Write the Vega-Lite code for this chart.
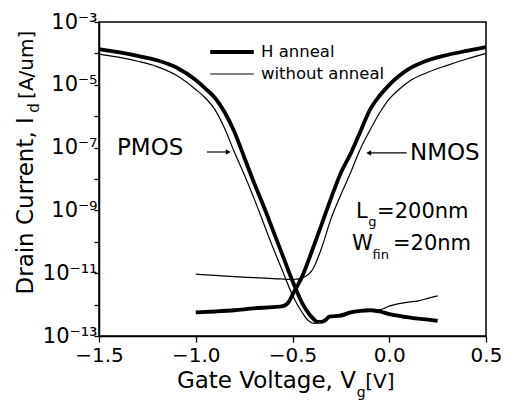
{
  "$schema": "https://vega.github.io/schema/vega-lite/v6.json",
  "width": 387,
  "height": 314,
  "autosize": {"type": "none"},
  "padding": {"left": 99, "top": 22, "right": 19, "bottom": 66},
  "background": "white",
  "config": {
    "view": {"stroke": "black", "strokeWidth": 1.5},
    "font": "DejaVu Sans",
    "text": {"font": "DejaVu Sans", "color": "black"}
  },
  "layer": [
    {
      "data": {"values": [
        {"v": -1.5, "i": 1.38e-4, "a": "H anneal", "d": "PMOS"},
        {"v": -1.4, "i": 1.096e-4, "a": "H anneal", "d": "PMOS"},
        {"v": -1.3, "i": 8.32e-5, "a": "H anneal", "d": "PMOS"},
        {"v": -1.2, "i": 6.03e-5, "a": "H anneal", "d": "PMOS"},
        {"v": -1.1, "i": 3.55e-5, "a": "H anneal", "d": "PMOS"},
        {"v": -1.0, "i": 1.413e-5, "a": "H anneal", "d": "PMOS"},
        {"v": -0.95, "i": 7.59e-6, "a": "H anneal", "d": "PMOS"},
        {"v": -0.9, "i": 3.80e-6, "a": "H anneal", "d": "PMOS"},
        {"v": -0.85, "i": 1.318e-6, "a": "H anneal", "d": "PMOS"},
        {"v": -0.8, "i": 3.16e-7, "a": "H anneal", "d": "PMOS"},
        {"v": -0.75, "i": 5.01e-8, "a": "H anneal", "d": "PMOS"},
        {"v": -0.7, "i": 7.94e-9, "a": "H anneal", "d": "PMOS"},
        {"v": -0.65, "i": 1.413e-9, "a": "H anneal", "d": "PMOS"},
        {"v": -0.6, "i": 2.24e-10, "a": "H anneal", "d": "PMOS"},
        {"v": -0.55, "i": 3.55e-11, "a": "H anneal", "d": "PMOS"},
        {"v": -0.5, "i": 5.62e-12, "a": "H anneal", "d": "PMOS"},
        {"v": -0.45, "i": 1.122e-12, "a": "H anneal", "d": "PMOS"},
        {"v": -0.4, "i": 3.98e-13, "a": "H anneal", "d": "PMOS"},
        {"v": -0.37, "i": 2.82e-13, "a": "H anneal", "d": "PMOS"},
        {"v": -0.35, "i": 2.82e-13, "a": "H anneal", "d": "PMOS"},
        {"v": -0.33, "i": 3.16e-13, "a": "H anneal", "d": "PMOS"},
        {"v": -0.31, "i": 4.17e-13, "a": "H anneal", "d": "PMOS"},
        {"v": -0.25, "i": 4.47e-13, "a": "H anneal", "d": "PMOS"},
        {"v": -0.2, "i": 5.62e-13, "a": "H anneal", "d": "PMOS"},
        {"v": -0.15, "i": 6.31e-13, "a": "H anneal", "d": "PMOS"},
        {"v": -0.1, "i": 6.61e-13, "a": "H anneal", "d": "PMOS"},
        {"v": -0.05, "i": 6.03e-13, "a": "H anneal", "d": "PMOS"},
        {"v": 0.0, "i": 5.01e-13, "a": "H anneal", "d": "PMOS"},
        {"v": 0.05, "i": 4.37e-13, "a": "H anneal", "d": "PMOS"},
        {"v": 0.1, "i": 3.89e-13, "a": "H anneal", "d": "PMOS"},
        {"v": 0.15, "i": 3.55e-13, "a": "H anneal", "d": "PMOS"},
        {"v": 0.2, "i": 3.31e-13, "a": "H anneal", "d": "PMOS"},
        {"v": 0.25, "i": 3.02e-13, "a": "H anneal", "d": "PMOS"},

        {"v": -1.5, "i": 9.55e-5, "a": "without anneal", "d": "PMOS"},
        {"v": -1.4, "i": 7.59e-5, "a": "without anneal", "d": "PMOS"},
        {"v": -1.3, "i": 5.62e-5, "a": "without anneal", "d": "PMOS"},
        {"v": -1.2, "i": 3.80e-5, "a": "without anneal", "d": "PMOS"},
        {"v": -1.1, "i": 2.0e-5, "a": "without anneal", "d": "PMOS"},
        {"v": -1.0, "i": 7.08e-6, "a": "without anneal", "d": "PMOS"},
        {"v": -0.95, "i": 3.80e-6, "a": "without anneal", "d": "PMOS"},
        {"v": -0.9, "i": 1.585e-6, "a": "without anneal", "d": "PMOS"},
        {"v": -0.85, "i": 3.98e-7, "a": "without anneal", "d": "PMOS"},
        {"v": -0.8, "i": 7.08e-8, "a": "without anneal", "d": "PMOS"},
        {"v": -0.75, "i": 1.413e-8, "a": "without anneal", "d": "PMOS"},
        {"v": -0.7, "i": 2.51e-9, "a": "without anneal", "d": "PMOS"},
        {"v": -0.65, "i": 3.98e-10, "a": "without anneal", "d": "PMOS"},
        {"v": -0.6, "i": 6.31e-11, "a": "without anneal", "d": "PMOS"},
        {"v": -0.55, "i": 1.122e-11, "a": "without anneal", "d": "PMOS"},
        {"v": -0.5, "i": 2.0e-12, "a": "without anneal", "d": "PMOS"},
        {"v": -0.45, "i": 5.62e-13, "a": "without anneal", "d": "PMOS"},
        {"v": -0.42, "i": 3.16e-13, "a": "without anneal", "d": "PMOS"},
        {"v": -0.39, "i": 2.51e-13, "a": "without anneal", "d": "PMOS"},
        {"v": -0.36, "i": 2.82e-13, "a": "without anneal", "d": "PMOS"},
        {"v": -0.33, "i": 3.55e-13, "a": "without anneal", "d": "PMOS"},
        {"v": -0.3, "i": 4.17e-13, "a": "without anneal", "d": "PMOS"},
        {"v": -0.25, "i": 5.01e-13, "a": "without anneal", "d": "PMOS"},
        {"v": -0.2, "i": 6.03e-13, "a": "without anneal", "d": "PMOS"},
        {"v": -0.15, "i": 6.31e-13, "a": "without anneal", "d": "PMOS"},
        {"v": -0.1, "i": 6.61e-13, "a": "without anneal", "d": "PMOS"},
        {"v": -0.05, "i": 6.76e-13, "a": "without anneal", "d": "PMOS"},
        {"v": 0.0, "i": 8.91e-13, "a": "without anneal", "d": "PMOS"},
        {"v": 0.05, "i": 1.072e-12, "a": "without anneal", "d": "PMOS"},
        {"v": 0.1, "i": 1.202e-12, "a": "without anneal", "d": "PMOS"},
        {"v": 0.15, "i": 1.318e-12, "a": "without anneal", "d": "PMOS"},
        {"v": 0.2, "i": 1.585e-12, "a": "without anneal", "d": "PMOS"},
        {"v": 0.25, "i": 1.905e-12, "a": "without anneal", "d": "PMOS"},

        {"v": -1.0, "i": 5.62e-13, "a": "H anneal", "d": "NMOS"},
        {"v": -0.9, "i": 6.03e-13, "a": "H anneal", "d": "NMOS"},
        {"v": -0.8, "i": 6.61e-13, "a": "H anneal", "d": "NMOS"},
        {"v": -0.7, "i": 7.59e-13, "a": "H anneal", "d": "NMOS"},
        {"v": -0.6, "i": 8.32e-13, "a": "H anneal", "d": "NMOS"},
        {"v": -0.55, "i": 8.91e-13, "a": "H anneal", "d": "NMOS"},
        {"v": -0.52, "i": 1.202e-12, "a": "H anneal", "d": "NMOS"},
        {"v": -0.5, "i": 2.09e-12, "a": "H anneal", "d": "NMOS"},
        {"v": -0.47, "i": 4.47e-12, "a": "H anneal", "d": "NMOS"},
        {"v": -0.45, "i": 7.94e-12, "a": "H anneal", "d": "NMOS"},
        {"v": -0.4, "i": 5.01e-11, "a": "H anneal", "d": "NMOS"},
        {"v": -0.35, "i": 3.55e-10, "a": "H anneal", "d": "NMOS"},
        {"v": -0.3, "i": 2.51e-9, "a": "H anneal", "d": "NMOS"},
        {"v": -0.25, "i": 1.585e-8, "a": "H anneal", "d": "NMOS"},
        {"v": -0.2, "i": 6.31e-8, "a": "H anneal", "d": "NMOS"},
        {"v": -0.15, "i": 3.16e-7, "a": "H anneal", "d": "NMOS"},
        {"v": -0.1, "i": 1.585e-6, "a": "H anneal", "d": "NMOS"},
        {"v": -0.05, "i": 4.47e-6, "a": "H anneal", "d": "NMOS"},
        {"v": 0.0, "i": 1.0e-5, "a": "H anneal", "d": "NMOS"},
        {"v": 0.05, "i": 1.905e-5, "a": "H anneal", "d": "NMOS"},
        {"v": 0.1, "i": 3.16e-5, "a": "H anneal", "d": "NMOS"},
        {"v": 0.2, "i": 6.03e-5, "a": "H anneal", "d": "NMOS"},
        {"v": 0.3, "i": 8.91e-5, "a": "H anneal", "d": "NMOS"},
        {"v": 0.4, "i": 1.202e-4, "a": "H anneal", "d": "NMOS"},
        {"v": 0.5, "i": 1.585e-4, "a": "H anneal", "d": "NMOS"},

        {"v": -1.0, "i": 9.33e-12, "a": "without anneal", "d": "NMOS"},
        {"v": -0.9, "i": 8.51e-12, "a": "without anneal", "d": "NMOS"},
        {"v": -0.8, "i": 7.76e-12, "a": "without anneal", "d": "NMOS"},
        {"v": -0.7, "i": 7.24e-12, "a": "without anneal", "d": "NMOS"},
        {"v": -0.6, "i": 6.76e-12, "a": "without anneal", "d": "NMOS"},
        {"v": -0.5, "i": 6.31e-12, "a": "without anneal", "d": "NMOS"},
        {"v": -0.45, "i": 7.08e-12, "a": "without anneal", "d": "NMOS"},
        {"v": -0.42, "i": 8.91e-12, "a": "without anneal", "d": "NMOS"},
        {"v": -0.4, "i": 1.202e-11, "a": "without anneal", "d": "NMOS"},
        {"v": -0.38, "i": 2.09e-11, "a": "without anneal", "d": "NMOS"},
        {"v": -0.35, "i": 6.31e-11, "a": "without anneal", "d": "NMOS"},
        {"v": -0.3, "i": 5.62e-10, "a": "without anneal", "d": "NMOS"},
        {"v": -0.25, "i": 3.16e-9, "a": "without anneal", "d": "NMOS"},
        {"v": -0.2, "i": 1.585e-8, "a": "without anneal", "d": "NMOS"},
        {"v": -0.15, "i": 8.91e-8, "a": "without anneal", "d": "NMOS"},
        {"v": -0.1, "i": 3.55e-7, "a": "without anneal", "d": "NMOS"},
        {"v": -0.05, "i": 1.259e-6, "a": "without anneal", "d": "NMOS"},
        {"v": 0.0, "i": 3.55e-6, "a": "without anneal", "d": "NMOS"},
        {"v": 0.05, "i": 7.08e-6, "a": "without anneal", "d": "NMOS"},
        {"v": 0.1, "i": 1.259e-5, "a": "without anneal", "d": "NMOS"},
        {"v": 0.2, "i": 2.51e-5, "a": "without anneal", "d": "NMOS"},
        {"v": 0.3, "i": 4.17e-5, "a": "without anneal", "d": "NMOS"},
        {"v": 0.4, "i": 6.61e-5, "a": "without anneal", "d": "NMOS"},
        {"v": 0.5, "i": 1.0e-4, "a": "without anneal", "d": "NMOS"}
      ]},
      "mark": {"type": "line", "color": "black", "interpolate": "monotone", "strokeJoin": "round"},
      "encoding": {
        "x": {"field": "v", "type": "quantitative",
          "scale": {"domain": [-1.5, 0.5], "nice": false, "zero": false},
          "axis": {
            "title": null, "grid": false,
            "values": [-1.5, -1.0, -0.5, 0.0, 0.5],
            "format": ".1f",
            "tickSize": 6,
            "tickColor": "black", "tickWidth": 1.3,
            "domainColor": "black", "domainWidth": 1.5,
            "labelFont": "DejaVu Sans", "labelFontSize": 20, "labelColor": "black",
            "labelPadding": 3, "labelFlush": false, "labelOverlap": false
          }
        },
        "y": {"field": "i", "type": "quantitative",
          "scale": {"type": "log", "domain": [1e-13, 1e-3], "nice": false},
          "axis": {
            "title": null, "grid": false,
            "values": [1e-13, 1e-12, 1e-11, 1e-10, 1e-9, 1e-8, 1e-7, 1e-6, 1e-5, 1e-4, 1e-3],
            "labelExpr": "({'-3': '10⁻³', '-5': '10⁻⁵', '-7': '10⁻⁷', '-9': '10⁻⁹', '-11': '10⁻¹¹', '-13': '10⁻¹³'}['' + round(log(datum.value)/LN10)] || '')",
            "tickSize": 5,
            "tickColor": "black", "tickWidth": 1.3,
            "domainColor": "black", "domainWidth": 1.5,
            "labelFont": "DejaVu Sans", "labelFontSize": 21, "labelColor": "black",
            "labelPadding": -3, "labelFlush": false, "labelOverlap": false
          }
        },
        "detail": {"field": "d", "type": "nominal"},
        "strokeWidth": {"field": "a", "type": "nominal",
          "scale": {"domain": ["H anneal", "without anneal"], "range": [3.8, 1.2]},
          "legend": {
            "orient": "none", "legendX": 109, "legendY": 20, "title": null,
            "symbolType": "stroke", "symbolSize": 1900, "symbolStrokeColor": "black",
            "labelFont": "DejaVu Sans", "labelFontSize": 16.5, "labelColor": "black",
            "labelOffset": 5, "clipHeight": 20, "rowPadding": 2
          }
        }
      }
    },
    {
      "data": {"values": [{"v": -1.407, "i": 9.8e-8, "t": "PMOS"}, {"v": 0.107, "i": 6.76e-8, "t": "NMOS"}]},
      "mark": {"type": "text", "align": "left", "baseline": "middle", "fontSize": 23, "font": "DejaVu Sans", "color": "black"},
      "encoding": {"x": {"field": "v", "type": "quantitative"}, "y": {"field": "i", "type": "quantitative"}, "text": {"field": "t"}}
    },
    {
      "data": {"values": [{"v": -0.942, "v2": -0.835, "i": 7.24e-8}, {"v": -0.1, "v2": 0.09, "i": 6.76e-8}]},
      "mark": {"type": "rule", "color": "black", "strokeWidth": 1.2},
      "encoding": {"x": {"field": "v", "type": "quantitative"}, "x2": {"field": "v2"}, "y": {"field": "i", "type": "quantitative"}}
    },
    {
      "data": {"values": [{"v": -0.832, "i": 7.24e-8}]},
      "mark": {"type": "point", "shape": "triangle-right", "filled": true, "color": "black", "size": 30, "opacity": 1},
      "encoding": {"x": {"field": "v", "type": "quantitative"}, "y": {"field": "i", "type": "quantitative"}}
    },
    {
      "data": {"values": [{"v": -0.106, "i": 6.76e-8}]},
      "mark": {"type": "point", "shape": "triangle-left", "filled": true, "color": "black", "size": 30, "opacity": 1},
      "encoding": {"x": {"field": "v", "type": "quantitative"}, "y": {"field": "i", "type": "quantitative"}}
    },
    {
      "data": {"values": [
        {"v": -0.172, "i": 5.75e-10, "t": "L"},
        {"v": -0.063, "i": 5.75e-10, "t": "=200nm"},
        {"v": -0.193, "i": 5.5e-11, "t": "W"},
        {"v": 0.019, "i": 5.5e-11, "t": "=20nm"}
      ]},
      "mark": {"type": "text", "align": "left", "baseline": "alphabetic", "fontSize": 21, "font": "DejaVu Sans", "color": "black"},
      "encoding": {"x": {"field": "v", "type": "quantitative"}, "y": {"field": "i", "type": "quantitative"}, "text": {"field": "t"}}
    },
    {
      "data": {"values": [
        {"v": -0.108, "i": 3.16e-10, "t": "g"},
        {"v": -0.086, "i": 2.82e-11, "t": "fin"}
      ]},
      "mark": {"type": "text", "align": "left", "baseline": "alphabetic", "fontSize": 13, "font": "DejaVu Sans", "color": "black"},
      "encoding": {"x": {"field": "v", "type": "quantitative"}, "y": {"field": "i", "type": "quantitative"}, "text": {"field": "t"}}
    },
    {
      "data": {"values": [{"v": -0.172, "i": 2.19e-15, "t": "Gate Voltage, V"}]},
      "mark": {"type": "text", "align": "right", "baseline": "alphabetic", "fontSize": 23, "font": "DejaVu Sans", "color": "black"},
      "encoding": {"x": {"field": "v", "type": "quantitative"}, "y": {"field": "i", "type": "quantitative"}, "text": {"field": "t"}}
    },
    {
      "data": {"values": [{"v": -0.124, "i": 2.19e-15, "t": "[V]"}]},
      "mark": {"type": "text", "align": "left", "baseline": "alphabetic", "fontSize": 20, "font": "DejaVu Sans", "color": "black"},
      "encoding": {"x": {"field": "v", "type": "quantitative"}, "y": {"field": "i", "type": "quantitative"}, "text": {"field": "t"}}
    },
    {
      "data": {"values": [{"v": -0.168, "i": 1.12e-15, "t": "g"}]},
      "mark": {"type": "text", "align": "left", "baseline": "alphabetic", "fontSize": 14, "font": "DejaVu Sans", "color": "black"},
      "encoding": {"x": {"field": "v", "type": "quantitative"}, "y": {"field": "i", "type": "quantitative"}, "text": {"field": "t"}}
    },
    {
      "data": {"values": [{"v": -1.841, "i": 9.3e-7, "t": "Drain Current, I"}]},
      "mark": {"type": "text", "align": "right", "baseline": "alphabetic", "angle": 270, "fontSize": 23, "font": "DejaVu Sans", "color": "black"},
      "encoding": {"x": {"field": "v", "type": "quantitative"}, "y": {"field": "i", "type": "quantitative"}, "text": {"field": "t"}}
    },
    {
      "data": {"values": [{"v": -1.841, "i": 3.55e-6, "t": "[A/um]"}]},
      "mark": {"type": "text", "align": "left", "baseline": "alphabetic", "angle": 270, "fontSize": 20, "font": "DejaVu Sans", "color": "black"},
      "encoding": {"x": {"field": "v", "type": "quantitative"}, "y": {"field": "i", "type": "quantitative"}, "text": {"field": "t"}}
    },
    {
      "data": {"values": [{"v": -1.81, "i": 1.82e-6, "t": "d"}]},
      "mark": {"type": "text", "align": "center", "baseline": "alphabetic", "angle": 270, "fontSize": 15, "font": "DejaVu Sans", "color": "black"},
      "encoding": {"x": {"field": "v", "type": "quantitative"}, "y": {"field": "i", "type": "quantitative"}, "text": {"field": "t"}}
    }
  ]
}
